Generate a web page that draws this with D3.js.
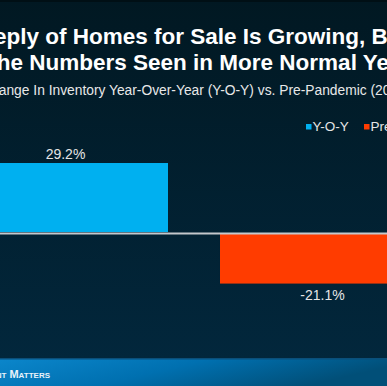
<!DOCTYPE html>
<html><head><meta charset="utf-8">
<script src="https://cdn.jsdelivr.net/npm/d3@7"></script>
<style>html,body{margin:0;padding:0;background:#021c29;overflow:hidden}</style>
</head><body>
<script>
const categories = ["Y-O-Y", "Pre-Pandemic"];
const values = [29.2, -21.1];
const labels = ["29.2%", "-21.1%"];
const colors = ["#00b0f0", "#ff3c00"];
const titleLines = ["eply of Homes for Sale Is Growing, But", "the Numbers Seen in More Normal Years"];
const subtitle = "Change In Inventory Year-Over-Year (Y-O-Y) vs. Pre-Pandemic (2017-2019)";
const footer = "Keeping Current Matters";

const W = 387, H = 386;
const svg = d3.select("body").append("svg").attr("width", W).attr("height", H);
const defs = svg.append("defs");
const bg = defs.append("linearGradient").attr("id","bg").attr("x1",0).attr("y1",0).attr("x2",0).attr("y2",1);
bg.append("stop").attr("offset","0").attr("stop-color","#011822");
bg.append("stop").attr("offset","1").attr("stop-color","#02283e");
const fg = defs.append("linearGradient").attr("id","fg").attr("x1",0).attr("y1",0).attr("x2",1).attr("y2",0.3);
fg.append("stop").attr("offset","0").attr("stop-color","#0b86cb");
fg.append("stop").attr("offset","0.5").attr("stop-color","#0070b0");
fg.append("stop").attr("offset","1").attr("stop-color","#014f78");

svg.append("rect").attr("width",W).attr("height",H).attr("fill","url(#bg)");
svg.append("rect").attr("width",W).attr("height",2).attr("fill","#000f15");

// footer band
svg.append("rect").attr("x",0).attr("y",359).attr("width",W).attr("height",H-359).attr("fill","url(#fg)");
svg.append("rect").attr("x",0).attr("y",358).attr("width",W).attr("height",1.5).attr("fill","#0a4f7a");
svg.append("text").attr("x",50).attr("y",377.5).attr("text-anchor","end")
  .attr("font-family","Liberation Sans, Arial, sans-serif").attr("font-weight","bold")
  .attr("font-size",11).attr("font-variant","small-caps").attr("fill","#e8f2fa").text(footer);

const font = "Liberation Sans, Arial, Helvetica, sans-serif";
function placeAligned(sel, anchorStr, targetX) {
  const node = sel.node();
  const idx = node.textContent.indexOf(anchorStr);
  const off = idx > 0 ? node.getSubStringLength(0, idx) : 0;
  sel.attr("x", targetX - off);
}

const t1 = svg.append("text").attr("y",44).attr("font-family",font).attr("font-weight","bold")
  .attr("font-size",22.5).attr("fill","#ffffff").text(titleLines[0]);
placeAligned(t1, "Homes", 72.7);
const t2 = svg.append("text").attr("y",70).attr("font-family",font).attr("font-weight","bold")
  .attr("font-size",22.5).attr("fill","#ffffff").text(titleLines[1]);
placeAligned(t2, "Numbers", 29.3);
const st = svg.append("text").attr("y",95).attr("font-family",font)
  .attr("font-size",13.8).attr("fill","#e8e8e8").text(subtitle);
placeAligned(st, "In Inventory", 33.3);

// scales
const x = d3.scaleBand().domain(categories).range([-37, 425]).paddingInner(0.2023).paddingOuter(0);
const y = d3.scaleLinear().domain([-40, 40]).range([233 + 40*2.397, 233 - 40*2.397]);

svg.selectAll("rect.bar").data(values).join("rect").attr("class","bar")
  .attr("x",(d,i)=>x(categories[i]))
  .attr("width",x.bandwidth())
  .attr("y",d=>d>=0 ? y(d) : y(0)+1)
  .attr("height",d=>d>=0 ? y(0)-1-y(d) : y(d)-y(0)-1)
  .attr("fill",(d,i)=>colors[i]);

// zero axis line
const ax = svg.append("g").attr("transform",`translate(0,${y(0)})`)
  .call(d3.axisBottom(x).tickSize(0).tickFormat(""));
ax.select(".domain").attr("stroke","#c4c8cc").attr("stroke-width",2);

svg.selectAll("text.lbl").data(values).join("text").attr("class","lbl")
  .attr("x",(d,i)=>x(categories[i])+x.bandwidth()/2)
  .attr("y",d=>d>=0 ? y(d)-4 : y(d)+16)
  .attr("text-anchor","middle").attr("font-family",font).attr("font-size",14)
  .attr("fill","#e6e6e6").text((d,i)=>labels[i]);

// legend
const legX = [306, 364];
const lg = svg.selectAll("g.leg").data(categories).join("g").attr("class","leg")
  .attr("transform",(d,i)=>`translate(${legX[i]},124)`);
lg.append("rect").attr("width",5.5).attr("height",5.5).attr("fill",(d,i)=>colors[i]);
lg.append("text").attr("x",6.5).attr("y",6.8).attr("font-family",font).attr("font-size",13.5)
  .attr("fill","#e6e6e6").text(d=>d);
</script>
</body></html>
